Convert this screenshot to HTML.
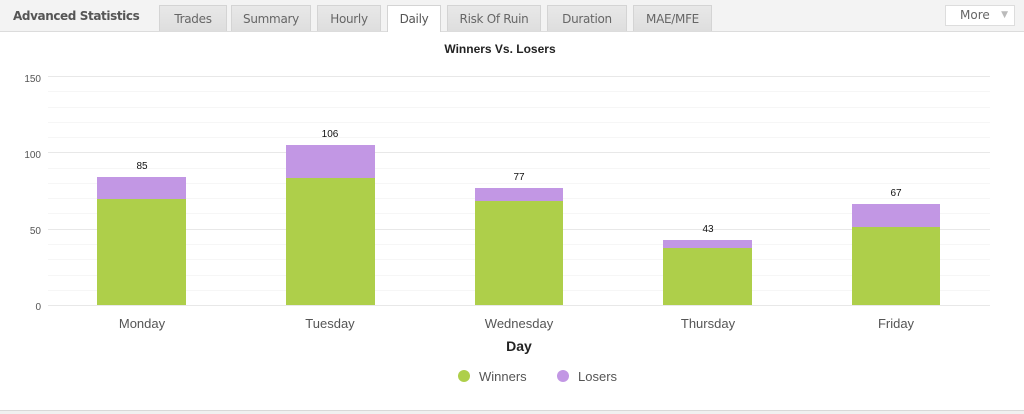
<!DOCTYPE html>
<html><head><style>
body{margin:0;width:1024px;height:413px;background:#fff;overflow:hidden;font-family:"DejaVu Sans","Liberation Sans",sans-serif;}
.hdr{position:absolute;left:0;top:0;width:1024px;height:31px;background:#f3f3f3;border-bottom:1px solid #dcdcdc;}
.title{position:absolute;left:13px;top:9px;font-size:12px;letter-spacing:-0.4px;font-weight:bold;color:#555;}
.tab{position:absolute;top:5px;height:26px;background:linear-gradient(#e8e8e8,#dedede);border:1px solid #d4d4d4;border-bottom:none;font-size:12px;letter-spacing:-0.3px;color:#666;text-align:center;line-height:27px;box-sizing:border-box;}
.tab.act{background:#fff;height:27px;color:#555;}
.more{position:absolute;left:945px;top:5px;width:70px;height:21px;background:#fff;border:1px solid #ddd;box-sizing:border-box;font-size:12px;color:#666;line-height:19px;padding-left:14px;}
.more span{position:absolute;right:6px;top:0;font-size:9px;color:#bbb;}
.bot{position:absolute;left:0;top:410px;width:1024px;height:3px;background:#f0f0f0;border-top:1px solid #d8d8d8;}
</style></head><body>
<div class="hdr">
<div class="title">Advanced Statistics</div>
<div class="tab" style="left:159px;width:68px">Trades</div>
<div class="tab" style="left:231px;width:80px">Summary</div>
<div class="tab" style="left:317px;width:64px">Hourly</div>
<div class="tab act" style="left:387px;width:54px">Daily</div>
<div class="tab" style="left:447px;width:94px">Risk Of Ruin</div>
<div class="tab" style="left:547px;width:80px">Duration</div>
<div class="tab" style="left:633px;width:79px">MAE/MFE</div>
<div class="more">More<span>▼</span></div>
</div>
<svg style="position:absolute;left:0;top:0" width="1024" height="413" font-family="Liberation Sans, sans-serif">
<text x="500" y="53" text-anchor="middle" font-size="12" font-weight="bold" fill="#222">Winners Vs. Losers</text>
<g stroke="#f6f6f6" stroke-width="1">
<line x1="48" x2="990" y1="290.5" y2="290.5"/><line x1="48" x2="990" y1="275.5" y2="275.5"/><line x1="48" x2="990" y1="259.5" y2="259.5"/><line x1="48" x2="990" y1="244.5" y2="244.5"/>
<line x1="48" x2="990" y1="213.5" y2="213.5"/><line x1="48" x2="990" y1="198.5" y2="198.5"/><line x1="48" x2="990" y1="183.5" y2="183.5"/><line x1="48" x2="990" y1="168.5" y2="168.5"/>
<line x1="48" x2="990" y1="137.5" y2="137.5"/><line x1="48" x2="990" y1="122.5" y2="122.5"/><line x1="48" x2="990" y1="107.5" y2="107.5"/><line x1="48" x2="990" y1="91.5" y2="91.5"/>
</g>
<g stroke="#e8e8e8" stroke-width="1">
<line x1="48" x2="990" y1="76.5" y2="76.5"/><line x1="48" x2="990" y1="152.5" y2="152.5"/><line x1="48" x2="990" y1="229.5" y2="229.5"/><line x1="48" x2="990" y1="305.5" y2="305.5"/>
</g>
<g font-size="10" fill="#555" text-anchor="end">
<text x="41" y="82">150</text><text x="41" y="158">100</text><text x="41" y="234">50</text><text x="41" y="310">0</text>
</g>
<g>
<rect x="97" y="199" width="89" height="106" fill="#aecf4a"/><rect x="97" y="177" width="89" height="22" fill="#c297e4"/>
<rect x="286" y="178" width="89" height="127" fill="#aecf4a"/><rect x="286" y="145" width="89" height="33" fill="#c297e4"/>
<rect x="475" y="201" width="88" height="104" fill="#aecf4a"/><rect x="475" y="188" width="88" height="13" fill="#c297e4"/>
<rect x="663" y="248" width="89" height="57" fill="#aecf4a"/><rect x="663" y="240" width="89" height="8" fill="#c297e4"/>
<rect x="852" y="227" width="88" height="78" fill="#aecf4a"/><rect x="852" y="204" width="88" height="23" fill="#c297e4"/>
</g>
<g font-size="10" fill="#111" text-anchor="middle">
<text x="142" y="169">85</text><text x="330" y="137">106</text><text x="519" y="180">77</text><text x="708" y="232">43</text><text x="896" y="196">67</text>
</g>
<g font-size="13" fill="#555" text-anchor="middle">
<text x="142" y="328">Monday</text><text x="330" y="328">Tuesday</text><text x="519" y="328">Wednesday</text><text x="708" y="328">Thursday</text><text x="896" y="328">Friday</text>
</g>
<text x="519" y="351" text-anchor="middle" font-size="14" font-weight="bold" fill="#222">Day</text>
<circle cx="464" cy="376" r="6" fill="#aecf4a"/><text x="479" y="381" font-size="13" fill="#555">Winners</text>
<circle cx="563" cy="376" r="6" fill="#c297e4"/><text x="578" y="381" font-size="13" fill="#555">Losers</text>
</svg>
<div class="bot"></div>
</body></html>
